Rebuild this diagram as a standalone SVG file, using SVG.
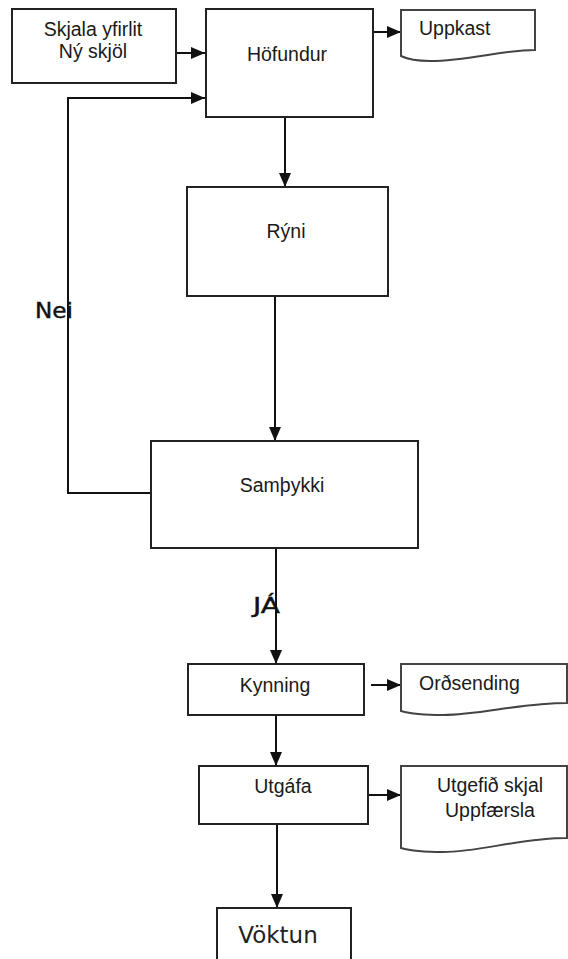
<svg xmlns="http://www.w3.org/2000/svg" width="568" height="959" viewBox="0 0 568 959">
<style>
.box{fill:#fff;stroke:#222;stroke-width:2}
.doc{fill:#fff;stroke:#444;stroke-width:2}
.t{font-family:"Liberation Sans",Arial,sans-serif;font-size:19.5px;fill:#1a1a1a;text-anchor:middle}
.tl{font-family:"Liberation Sans",Arial,sans-serif;font-size:19.5px;fill:#1a1a1a}
.big{font-family:"DejaVu Sans",Verdana,sans-serif;font-size:23px;fill:#222;text-anchor:middle}
.lab{font-family:"DejaVu Sans",Verdana,sans-serif;font-size:21px;fill:#111;stroke:#111;stroke-width:0.4}
.c{fill:none;stroke:#111;stroke-width:2;marker-end:url(#ah)}
</style>
<defs>
<marker id="ah" markerUnits="userSpaceOnUse" markerWidth="14" markerHeight="12" viewBox="0 0 14 12" refX="14" refY="6" orient="auto">
<path d="M0,0 L14,6 L0,12 Z" fill="#111"/>
</marker>
</defs>
<rect width="568" height="959" fill="#fff"/>
<g id="connectors">
<path class="c" d="M176,53 H205"/>
<path class="c" d="M151,493 H68 V98 H205"/>
<path class="c" d="M373,32 H401"/>
<path class="c" d="M285,117 V187"/>
<path class="c" d="M275,296 V441"/>
<path class="c" d="M276,548 V664"/>
<path class="c" d="M371,685 H401"/>
<path class="c" d="M276,715 V766"/>
<path class="c" d="M368,795 H401"/>
<path class="c" d="M277,824 V908"/>
<text class="lab" x="35" y="318" textLength="38" lengthAdjust="spacingAndGlyphs">Nei</text>
<text class="lab" x="253" y="613" textLength="27" lengthAdjust="spacingAndGlyphs">JÁ</text>
</g>
<g id="skjala">
<rect class="box" x="12" y="9" width="164" height="74"/>
<text class="t" x="93" y="36">Skjala yfirlit</text>
<text class="t" x="93" y="58">Ný skjöl</text>
</g>
<g id="hofundur">
<rect class="box" x="206" y="9" width="167" height="108"/>
<text class="t" x="287" y="61">Höfundur</text>
</g>
<g id="uppkast">
<path class="doc" d="M401,10 H535 V50 C500,50 470,61 430,61 C414,61 405,58 401,56 Z"/>
<text class="tl" x="419" y="35">Uppkast</text>
</g>
<g id="ryni">
<rect class="box" x="187" y="187" width="201" height="109"/>
<text class="t" x="286" y="238">Rýni</text>
</g>
<g id="sampykki">
<rect class="box" x="151" y="441" width="267" height="107"/>
<text class="t" x="282" y="492">Samþykki</text>
</g>
<g id="kynning">
<rect class="box" x="188" y="664" width="176" height="51"/>
<text class="t" x="275" y="692">Kynning</text>
</g>
<g id="ordsending">
<path class="doc" d="M401,664 H567 V703 C520,703 480,715 443,715 C420,715 408,713 401,711 Z"/>
<text class="tl" x="419" y="690">Orðsending</text>
</g>
<g id="utgafa">
<rect class="box" x="199" y="766" width="169" height="58"/>
<text class="t" x="283" y="793">Utgáfa</text>
</g>
<g id="utgefid">
<path class="doc" d="M401,766 H567 V838 C520,838 480,852 443,852 C420,852 408,850 401,848 Z"/>
<text class="t" x="490" y="792">Utgefið skjal</text>
<text class="t" x="490" y="817">Uppfærsla</text>
</g>
<g id="voktun">
<rect class="box" x="217" y="908" width="134" height="70"/>
<text class="big" x="278" y="943">Vöktun</text>
</g>
</svg>
